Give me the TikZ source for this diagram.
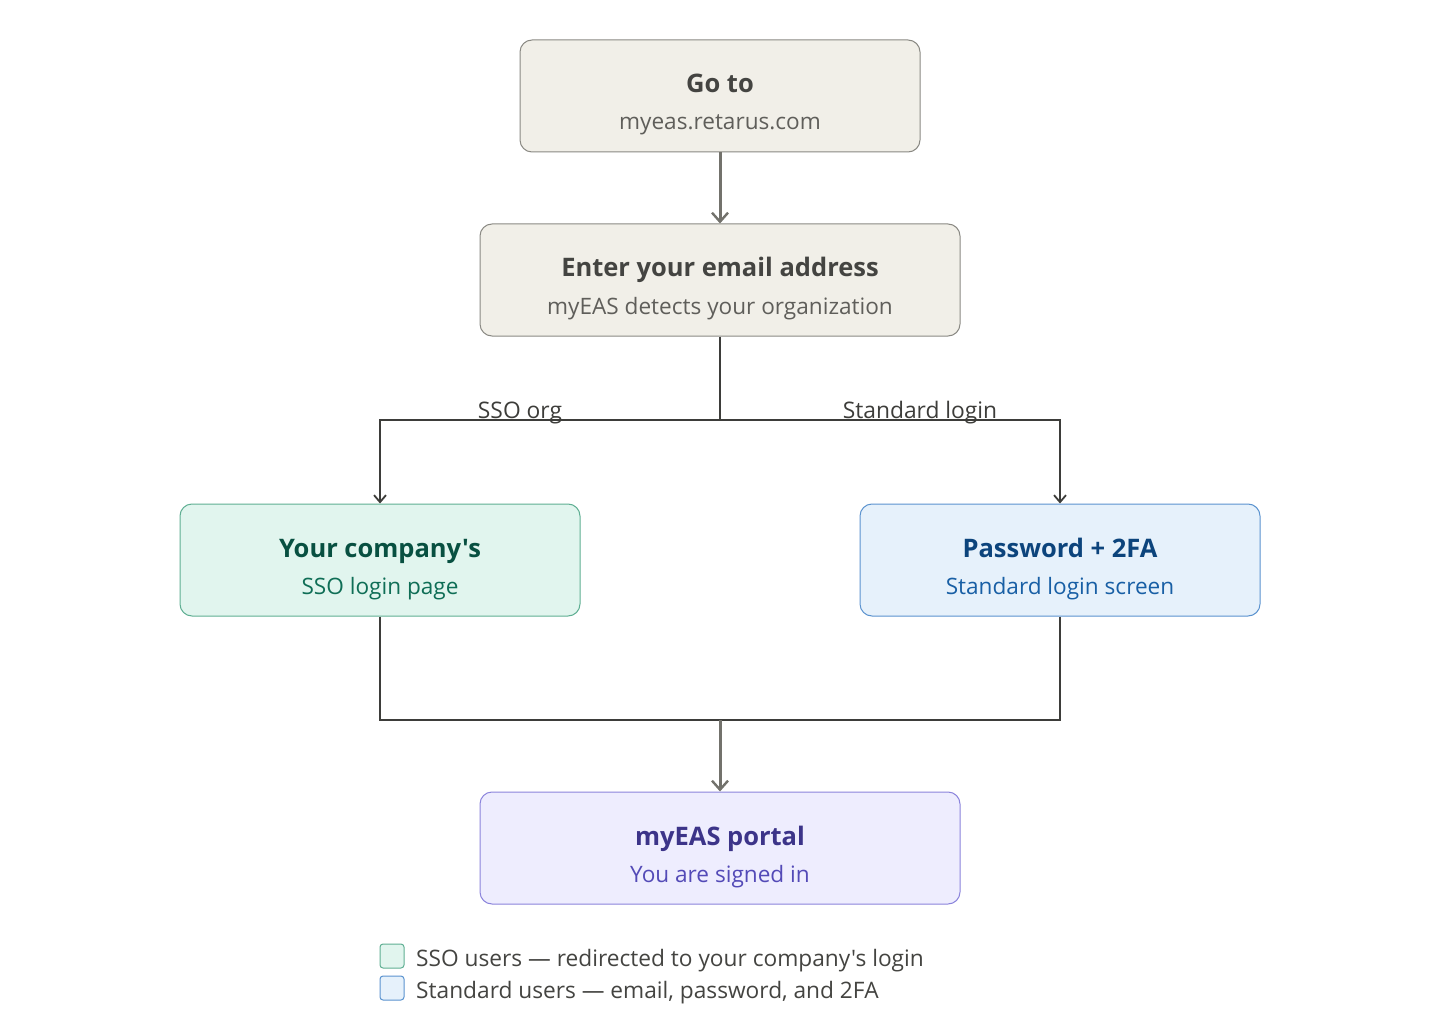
\documentclass[tikz,border=0pt]{standalone}
\usepackage{fontspec}
\setmainfont{Open Sans}[Ligatures=TeXOff]
\usetikzlibrary{arrows.meta}
\definecolor{bgfill}{HTML}{F1EFE8}
\definecolor{bgdraw}{HTML}{8A8983}
\definecolor{bgtitle}{HTML}{444441}
\definecolor{bgsub}{HTML}{5F5E5A}
\definecolor{grfill}{HTML}{E1F5EE}
\definecolor{grdraw}{HTML}{5FAF93}
\definecolor{grtitle}{HTML}{085041}
\definecolor{grsub}{HTML}{0F6E56}
\definecolor{blfill}{HTML}{E6F1FB}
\definecolor{bldraw}{HTML}{5B93CF}
\definecolor{bltitle}{HTML}{0C447C}
\definecolor{blsub}{HTML}{185FA5}
\definecolor{pufill}{HTML}{EEEDFE}
\definecolor{pudraw}{HTML}{8B84DC}
\definecolor{putitle}{HTML}{3C3489}
\definecolor{pusub}{HTML}{534AB7}
\definecolor{linedark}{HTML}{3D3D3A}
\definecolor{linegray}{HTML}{73726C}
\tikzset{
  x=1pt,y=-1pt,
  boxnode/.style={rounded corners=12pt, line width=1pt, minimum height=112pt, inner sep=0pt},
  ttl/.style={font=\fontsize{25.5}{29}\selectfont\bfseries},
  sub/.style={font=\fontsize{22.6}{26}\selectfont},
  darkline/.style={draw=linedark, line width=2pt},
  grayarrow/.style={draw=linegray, line width=3pt, -{Straight Barb[length=9pt,width=16pt,line width=2.4pt]}},
  darkarrow/.style={draw=linedark, line width=2pt, -{Straight Barb[length=7pt,width=12pt,line width=1.8pt]}},
  lbl/.style={font=\fontsize{22.8}{26}\selectfont, text=linedark, anchor=base, inner sep=0pt},
  legbox/.style={rounded corners=3pt, line width=1pt, minimum width=24pt, minimum height=24pt, inner sep=0pt},
  legtext/.style={font=\fontsize{22.7}{26}\selectfont, text=bgtitle, anchor=base west, inner sep=0pt}
}
\begin{document}
\begin{tikzpicture}
\useasboundingbox (0,0) rectangle (1440,1024);
\fill[white] (0,0) rectangle (1440,1024);

\node[boxnode, fill=bgfill, draw=bgdraw, minimum width=400pt] (go) at (720,96) {};
\node[ttl, text=bgtitle, anchor=base] (got) at (720,93) {Go to};
\node[sub, text=bgsub, anchor=base] (gos) at (720,130) {myeas.retarus.com};

\node[boxnode, fill=bgfill, draw=bgdraw, minimum width=480pt] (em) at (720,280) {};
\node[ttl, text=bgtitle, anchor=base] (emt) at (720,277) {Enter your email address};
\node[sub, text=bgsub, anchor=base] (ems) at (720,314) {myEAS detects your organization};

\node[boxnode, fill=grfill, draw=grdraw, minimum width=400pt] (sso) at (380,560) {};
\node[ttl, text=grtitle, anchor=base] (ssot) at (380,557) {Your company's};
\node[sub, text=grsub, anchor=base] (ssos) at (380,594) {SSO login page};

\node[boxnode, fill=blfill, draw=bldraw, minimum width=400pt] (pw) at (1060,560) {};
\node[ttl, text=bltitle, anchor=base] (pwt) at (1060,557) {Password + 2FA};
\node[sub, text=blsub, anchor=base] (pws) at (1060,594) {Standard login screen};

\node[boxnode, fill=pufill, draw=pudraw, minimum width=480pt] (po) at (720,848) {};
\node[ttl, text=putitle, anchor=base] (pot) at (720,845) {myEAS portal};
\node[sub, text=pusub, anchor=base] (pos) at (720,882) {You are signed in};

\coordinate (split) at (720,420);
\coordinate (merge) at (720,720);

\draw[grayarrow] (go.south) -- (em.north);
\draw[darkline] (em.south) -- (split);
\draw[darkarrow] (split) -| (sso.north);
\draw[darkarrow] (split) -| (pw.north);
\node[lbl] (lsso) at (520,418) {SSO org};
\node[lbl] (lstd) at (920,418) {Standard login};

\draw[darkline] (sso.south) |- (merge);
\draw[darkline] (pw.south) |- (merge);
\draw[grayarrow] (merge) -- (po.north);

\node[legbox, fill=grfill, draw=grdraw] (lg1) at (392,956) {};
\node[legbox, fill=blfill, draw=bldraw] (lg2) at (392,988) {};
\node[legtext] (lt1) at (416,966) {SSO users — redirected to your company's login};
\node[legtext] (lt2) at (416,998) {Standard users — email, password, and 2FA};
\end{tikzpicture}
\end{document}
